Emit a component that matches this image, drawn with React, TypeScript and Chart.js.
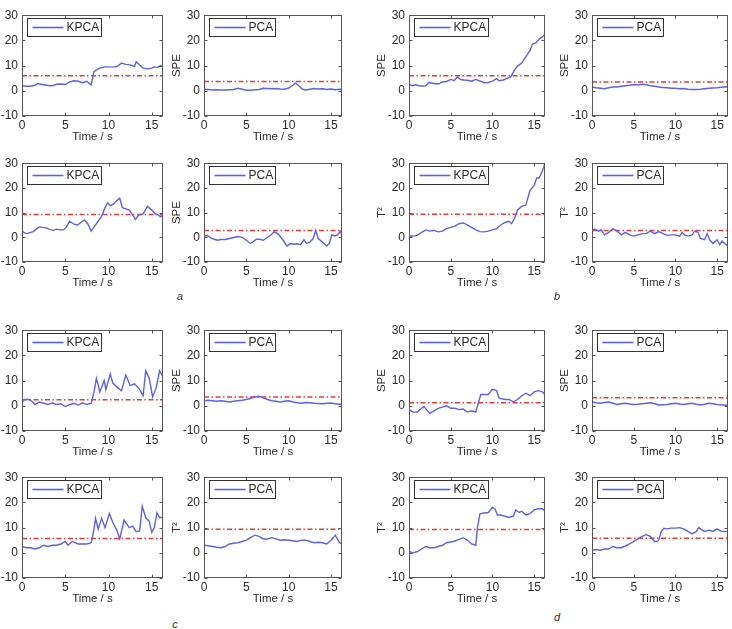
import React, { useEffect, useRef } from "react";
import { Chart, registerables } from "chart.js";
Chart.register(...registerables);

type P = [number, number];

const X_MAX = 16.3;
const X_TICKS = [0, 5, 10, 15];
const Y_MIN = -10;
const Y_MAX = 30;
const Y_TICKS = [-10, 0, 10, 20, 30];
const X_TITLE = "Time / s";

// ---- panel a ----
const A_TOP_KPCA: P[] = [[0,2],[0.5,1.8],[1,1.8],[1.5,2.2],[1.8,2.9],[2.2,2.6],[2.7,2.3],[3.2,2],[3.6,2.1],[4,2.6],[4.5,2.7],[5,2.5],[5.5,3.5],[6,4],[6.5,3.8],[7,3.2],[7.5,3.8],[7.9,2.5],[8,2.3],[8.3,7.5],[8.7,8.5],[9,9],[9.5,9.5],[10,9.5],[10.5,9.4],[11,9.7],[11.5,11],[12,10.5],[12.5,10.3],[13,9.7],[13.2,11.5],[13.6,10.2],[14,9],[14.5,8.7],[15,9],[15.3,9.5],[15.7,9.3],[16,10],[16.3,9.5]];
const A_TOP_KPCA_LIMIT = 6;
const A_TOP_PCA: P[] = [[0,0.6],[0.5,0.5],[1,0.3],[1.5,0.4],[2,0.3],[2.5,0.3],[3,0.4],[3.5,0.5],[4,1],[4.5,0.6],[5,0.2],[5.5,0.2],[6,0.4],[6.5,0.5],[7,1],[7.5,0.9],[8,0.8],[8.5,0.9],[9,0.7],[9.5,0.6],[10,1.1],[10.5,2.2],[10.8,3],[11.2,2],[11.6,0.7],[12,0.3],[12.5,0.6],[13,0.9],[13.5,0.7],[14,0.8],[14.5,0.5],[15,0.7],[15.5,0.4],[16,0.6],[16.3,0.5]];
const A_TOP_PCA_LIMIT = 3.7;
const A_BOT_KPCA: P[] = [[0,2.5],[0.3,1.8],[0.6,1.5],[1,2],[1.3,2.3],[1.6,3.2],[2,4.2],[2.4,4],[2.8,3.8],[3.2,3.2],[3.6,2.8],[4,3.3],[4.4,3],[4.8,3],[5.1,4],[5.5,6.5],[6,5.3],[6.4,5],[6.8,6],[7.2,7],[7.6,5.5],[8,2.5],[8.4,4.5],[8.8,6.5],[9.2,8.5],[9.6,12],[9.9,14],[10.2,12.8],[10.6,13.5],[11,15],[11.3,15.8],[11.6,12],[12,11.5],[12.4,11],[12.8,9],[13.1,7.3],[13.5,9],[14,9.5],[14.5,12.5],[15,11],[15.4,9.5],[15.8,9],[16,8.3],[16.3,9]];
const A_BOT_KPCA_LIMIT = 9.2;
const A_BOT_PCA: P[] = [[0,0.5],[0.4,0.7],[0.8,-0.2],[1.2,-0.8],[1.6,-1.2],[2,-0.9],[2.5,-0.9],[3,-0.5],[3.5,-0.1],[4,0.3],[4.5,0],[5,-1.2],[5.5,-2.5],[5.8,-1.8],[6.2,-0.8],[6.6,-0.8],[7,-1.2],[7.5,0],[8,1.2],[8.3,2.3],[8.8,1.2],[9.3,-1],[9.8,-3.5],[10.2,-2.5],[10.6,-2.8],[11,-2.6],[11.4,-3],[11.8,-1],[12.1,-2.5],[12.5,-2],[12.9,-0.5],[13.2,2.7],[13.5,-0.5],[14,-2],[14.5,-3.5],[14.8,-2.5],[15.1,1],[15.4,0.5],[15.8,1],[16.1,2.5],[16.3,1]];
const A_BOT_PCA_LIMIT = 2.8;

// ---- panel b ----
const B_TOP_KPCA: P[] = [[0,2.5],[0.4,2],[0.8,2.4],[1.2,2],[1.6,1.9],[2,2],[2.4,3.3],[2.8,3],[3.2,2.8],[3.6,2.8],[4,3.5],[4.5,3.7],[5,4.5],[5.4,4],[5.8,5.5],[6.2,4.5],[6.6,4.3],[7,4.2],[7.5,3.8],[8,4.5],[8.5,3.9],[9,3.2],[9.5,3.3],[10,3.8],[10.5,4.8],[10.8,4],[11.3,4.3],[11.8,5],[12.2,5.5],[12.6,8],[13,9.8],[13.5,11],[14,13.5],[14.5,16],[14.8,18.5],[15.2,19],[15.6,20.5],[16,21.5],[16.3,22.5]];
const B_TOP_KPCA_LIMIT = 6;
const B_TOP_PCA: P[] = [[0,1.5],[0.5,1.2],[1,1],[1.5,0.8],[2,1.2],[2.5,1.5],[3,1.5],[3.5,1.8],[4,2],[4.5,2.2],[5,2.5],[5.5,2.3],[6,2.6],[6.5,2.4],[7,2],[7.5,1.8],[8,1.5],[8.5,1.3],[9,1.2],[9.5,1],[10,1],[10.5,0.8],[11,0.9],[11.5,0.6],[12,0.5],[12.5,0.5],[13,0.6],[13.5,0.8],[14,1],[14.5,1.1],[15,1.2],[15.5,1.4],[16,1.6],[16.3,1.5]];
const B_TOP_PCA_LIMIT = 3.5;
const B_BOT_KPCA: P[] = [[0,0.5],[0.5,0.5],[1,0.8],[1.5,2],[2,3],[2.5,2.5],[3,2.8],[3.5,2.2],[4,2.5],[4.5,3.5],[5,4],[5.5,4.5],[6,5.5],[6.5,5.8],[7,5],[7.5,4],[8,3],[8.5,2.3],[9,2.2],[9.5,2.5],[10,3],[10.5,3.5],[11,5],[11.5,6],[12,6.5],[12.3,5.5],[12.7,8],[13,11],[13.5,12.5],[14,13],[14.5,19],[15,21],[15.3,24],[15.6,24],[16,27],[16.3,30]];
const B_BOT_KPCA_LIMIT = 9.3;
const B_BOT_PCA: P[] = [[0,2.5],[0.3,3.3],[0.8,2.5],[1.1,3],[1.5,1],[2,2],[2.5,3.5],[3,2.5],[3.5,1],[4,2],[4.5,1],[5,0.5],[5.5,1],[6,1.5],[6.5,1.5],[7,2.5],[7.5,1.5],[8,2.3],[8.5,1.5],[9,0.8],[9.5,1],[10,1],[10.5,0.5],[10.8,2],[11.1,1],[11.5,0.5],[12,1],[12.3,2.5],[12.7,2],[13,-0.5],[13.5,-1],[13.8,1.5],[14.1,-1],[14.5,-2.5],[15,-1],[15.3,-3],[15.6,-1.5],[16,-2.8],[16.3,-3.5]];
const B_BOT_PCA_LIMIT = 2.8;

// ---- panel c ----
const C_TOP_KPCA: P[] = [[0,1.5],[0.3,2.5],[0.8,2.5],[1.1,2],[1.5,0.5],[2,1.5],[2.5,1],[3,0.5],[3.5,1.2],[4,0.5],[4.5,0.8],[5,-0.3],[5.5,0.5],[6,1],[6.5,0.3],[7,1.2],[7.5,0.5],[8,1],[8.3,5],[8.6,10.9],[9,5.5],[9.5,10],[9.7,6.5],[10.2,12.6],[10.5,9],[11,7.4],[11.5,6],[12,12.2],[12.5,8],[13,8.7],[13.5,7],[14,4],[14.3,13.9],[14.7,11],[15.1,3.5],[15.5,7],[15.9,13.9],[16.3,11.5]];
const C_TOP_KPCA_LIMIT = 2.4;
const C_TOP_PCA: P[] = [[0,2],[0.5,2.2],[1,2],[1.5,1.8],[2,2],[2.5,1.8],[3,1.5],[3.5,1.8],[4,2],[4.5,2.2],[5,2.5],[5.5,3],[6,3.5],[6.5,3.8],[7,3.2],[7.5,2.5],[8,2],[8.5,1.8],[9,1.5],[9.5,1.8],[10,2],[10.5,1.5],[11,1.2],[11.5,1],[12,1.3],[12.5,1.2],[13,1],[13.5,0.9],[14,0.8],[14.5,1],[15,1.1],[15.5,0.8],[16,0.6],[16.3,0.5]];
const C_TOP_PCA_LIMIT = 3.5;
const C_BOT_KPCA: P[] = [[0,2.5],[0.5,2],[1,2],[1.5,1.5],[2,2],[2.5,3],[3,2.5],[3.5,3],[4,3],[4.5,3.5],[5,4.5],[5.3,3],[5.8,4.5],[6.5,3.5],[7,3.5],[7.5,3.5],[8,4],[8.3,9],[8.5,13.7],[8.8,9.4],[9.2,13.7],[9.6,10],[10.1,15.6],[10.5,12],[10.9,9.4],[11.3,5.6],[11.8,13],[12.4,10],[12.8,10.6],[13.2,8.4],[13.6,8.7],[13.9,18.5],[14.3,14],[14.7,12.5],[15,8.1],[15.3,10],[15.6,15.9],[15.9,14],[16.3,14]];
const C_BOT_KPCA_LIMIT = 5.7;
const C_BOT_PCA: P[] = [[0,3],[0.5,2.8],[1,2.5],[1.5,2.2],[2,2],[2.5,2.5],[3,3.5],[3.5,3.8],[4,4],[4.5,4.5],[5,5],[5.5,6],[6,7],[6.5,6.5],[7,5.5],[7.5,5.5],[8,6],[8.5,5.5],[9,5],[9.5,5.2],[10,5],[10.5,4.8],[11,4.5],[11.5,5],[12,5],[12.5,4.5],[13,4],[13.5,4.2],[14,4],[14.5,3.5],[15,5],[15.5,7],[16,4],[16.3,3.5]];
const C_BOT_PCA_LIMIT = 9.3;

// ---- panel d ----
const D_TOP_KPCA: P[] = [[0,-1.5],[0.5,-2.5],[1,-2.5],[1.5,-1],[1.8,-0.3],[2.1,-1.5],[2.5,-3],[3,-2],[3.5,-1],[4,-0.5],[4.5,0],[5,-1],[5.5,-1],[6,-1.5],[6.5,-1.3],[7,-2.5],[7.5,-2],[8,-2.5],[8.3,1],[8.6,4.5],[9,4.5],[9.5,4.5],[10,6.5],[10.5,6],[10.8,3],[11.5,2.5],[12,2.5],[12.5,1.5],[13,2.5],[13.5,4],[14,5],[14.5,4],[15,5.5],[15.5,6],[16,5.5],[16.3,4.5]];
const D_TOP_KPCA_LIMIT = 1.2;
const D_TOP_PCA: P[] = [[0,1.5],[0.5,1.2],[1,1],[1.5,1.3],[2,1.5],[2.5,1],[3,0.5],[3.5,0.8],[4,1],[4.5,0.7],[5,0.5],[5.5,0.6],[6,0.8],[6.5,1],[7,1.2],[7.5,0.8],[8,0.3],[8.5,0.4],[9,0.5],[9.5,0.8],[10,1],[10.5,0.7],[11,0.5],[11.5,0.8],[12,1],[12.5,0.6],[13,0.3],[13.5,0.6],[14,1],[14.5,0.8],[15,0.5],[15.5,0.4],[16,0.2],[16.3,0.3]];
const D_TOP_PCA_LIMIT = 3.2;
const D_BOT_KPCA: P[] = [[0,0.5],[0.5,0],[1,0.5],[1.5,1.5],[2,2.5],[2.5,2],[3,2],[3.5,2.5],[4,3],[4.5,4],[5,4.3],[5.5,4.7],[6,5.3],[6.5,6],[7,5],[7.5,3.5],[8,3],[8.2,10],[8.5,15.5],[9,15.8],[9.5,16],[10,18],[10.3,17.5],[10.6,15],[11,15],[11.5,14.5],[12,14],[12.5,14.5],[12.8,17],[13.2,16],[13.5,16.5],[14,15],[14.5,15.5],[15,17],[15.5,17.5],[16,17.5],[16.3,16.5]];
const D_BOT_KPCA_LIMIT = 9.2;
const D_BOT_PCA: P[] = [[0,1],[0.5,1.3],[1,1],[1.5,1.5],[2,1.5],[2.5,2.5],[3,2],[3.5,2],[4,2.7],[4.5,3.5],[5,4.5],[5.5,5.5],[6,6.5],[6.5,7.2],[7,6.5],[7.5,4.5],[7.8,4.5],[8,5],[8.3,8.5],[8.6,9.7],[9,9.5],[9.5,9.8],[10,9.8],[10.5,10],[11,9.5],[11.5,8.5],[12,7.5],[12.5,8.5],[12.8,10],[13.2,9],[13.5,8.5],[14,9],[14.5,8.5],[15,9.5],[15.5,8.5],[16,8.5],[16.3,8.5]];
const D_BOT_PCA_LIMIT = 5.8;

const SUB_LABELS = ["a", "b", "c", "d"];

// ---- layout (positions/styles) ----
const COL_BOX: [number, number][] = [[22, 141], [204, 138], [409, 136], [592, 136]];
const ROW_BOX: [number, number][] = [[12, 104], [160, 102], [327, 104], [474, 104]];
const SUB_POS: [number, number][] = [[180, 296], [557, 296], [175, 624], [557, 617]];
const LW = 34; // y-axis area width
const BH = 32; // x-axis area height
const PT = 8;
const PR = 6;
const FONT = "'Liberation Sans', Arial, sans-serif";
const TXT = "#2b2b2b";
const BLUE = "#5f5ff0";
const RED = "#ec3b36";
const FRAME = "#555555";

type PanelDef = { row: number; col: number; data: P[]; limit: number; label: string; yTitle: string };

const PANELS: PanelDef[] = [
  { row: 0, col: 0, data: A_TOP_KPCA, limit: A_TOP_KPCA_LIMIT, label: "KPCA", yTitle: "" },
  { row: 0, col: 1, data: A_TOP_PCA, limit: A_TOP_PCA_LIMIT, label: "PCA", yTitle: "SPE" },
  { row: 1, col: 0, data: A_BOT_KPCA, limit: A_BOT_KPCA_LIMIT, label: "KPCA", yTitle: "" },
  { row: 1, col: 1, data: A_BOT_PCA, limit: A_BOT_PCA_LIMIT, label: "PCA", yTitle: "SPE" },
  { row: 0, col: 2, data: B_TOP_KPCA, limit: B_TOP_KPCA_LIMIT, label: "KPCA", yTitle: "SPE" },
  { row: 0, col: 3, data: B_TOP_PCA, limit: B_TOP_PCA_LIMIT, label: "PCA", yTitle: "SPE" },
  { row: 1, col: 2, data: B_BOT_KPCA, limit: B_BOT_KPCA_LIMIT, label: "KPCA", yTitle: "T²" },
  { row: 1, col: 3, data: B_BOT_PCA, limit: B_BOT_PCA_LIMIT, label: "PCA", yTitle: "T²" },
  { row: 2, col: 0, data: C_TOP_KPCA, limit: C_TOP_KPCA_LIMIT, label: "KPCA", yTitle: "" },
  { row: 2, col: 1, data: C_TOP_PCA, limit: C_TOP_PCA_LIMIT, label: "PCA", yTitle: "SPE" },
  { row: 3, col: 0, data: C_BOT_KPCA, limit: C_BOT_KPCA_LIMIT, label: "KPCA", yTitle: "" },
  { row: 3, col: 1, data: C_BOT_PCA, limit: C_BOT_PCA_LIMIT, label: "PCA", yTitle: "T²" },
  { row: 2, col: 2, data: D_TOP_KPCA, limit: D_TOP_KPCA_LIMIT, label: "KPCA", yTitle: "SPE" },
  { row: 2, col: 3, data: D_TOP_PCA, limit: D_TOP_PCA_LIMIT, label: "PCA", yTitle: "SPE" },
  { row: 3, col: 2, data: D_BOT_KPCA, limit: D_BOT_KPCA_LIMIT, label: "KPCA", yTitle: "T²" },
  { row: 3, col: 3, data: D_BOT_PCA, limit: D_BOT_PCA_LIMIT, label: "PCA", yTitle: "T²" },
];

function framePlugin(label: string) {
  return {
    id: "frame",
    afterDraw(chart: any) {
      const { ctx, chartArea: a, scales } = chart;
      ctx.save();
      ctx.strokeStyle = FRAME;
      ctx.lineWidth = 1;
      const L = Math.round(a.left) + 0.5, R = Math.round(a.right) - 0.5;
      const T = Math.round(a.top) + 0.5, B = Math.round(a.bottom) - 0.5;
      ctx.strokeRect(L, T, R - L, B - T);
      ctx.beginPath();
      for (const v of X_TICKS) {
        const x = Math.round(scales.x.getPixelForValue(v)) + 0.5;
        ctx.moveTo(x, B); ctx.lineTo(x, B - 3);
        ctx.moveTo(x, T); ctx.lineTo(x, T + 3);
      }
      for (const v of Y_TICKS) {
        const y = Math.round(scales.y.getPixelForValue(v)) + 0.5;
        ctx.moveTo(L, y); ctx.lineTo(L + 3, y);
        ctx.moveTo(R, y); ctx.lineTo(R - 3, y);
      }
      ctx.stroke();
      // legend
      ctx.font = `12px ${FONT}`;
      const tw = ctx.measureText(label).width;
      const bx = L + 5, by = T + 3, bw = Math.round(41 + tw), bh = 18;
      ctx.fillStyle = "#ffffff";
      ctx.fillRect(bx, by, bw, bh);
      ctx.strokeStyle = "#333333";
      ctx.lineWidth = 1;
      ctx.strokeRect(bx, by, bw, bh);
      ctx.strokeStyle = BLUE;
      ctx.lineWidth = 1.6;
      ctx.beginPath();
      ctx.moveTo(bx + 5, by + bh / 2);
      ctx.lineTo(bx + 36, by + bh / 2);
      ctx.stroke();
      ctx.fillStyle = TXT;
      ctx.textBaseline = "middle";
      ctx.textAlign = "left";
      ctx.fillText(label, bx + 39, by + bh / 2 + 0.5);
      ctx.restore();
    },
  };
}

function Panel({ def }: { def: PanelDef }) {
  const ref = useRef<HTMLCanvasElement>(null);
  const [bl, bw] = COL_BOX[def.col];
  const [bt, bh] = ROW_BOX[def.row];
  const w = bw + LW + PR;
  const h = bh + PT + BH;
  useEffect(() => {
    if (!ref.current) return;
    const font = { family: FONT, size: 12 };
    const titleFont = { family: FONT, size: 11.5 };
    const chart = new Chart(ref.current, {
      type: "line",
      data: {
        datasets: [
          {
            data: def.data.map(([x, y]) => ({ x, y })),
            borderColor: BLUE,
            borderWidth: 1.4,
            pointRadius: 0,
            tension: 0,
          },
          {
            data: [{ x: 0, y: def.limit }, { x: X_MAX, y: def.limit }],
            borderColor: RED,
            borderWidth: 1.5,
            borderDash: [5, 2.5, 1.5, 2.5],
            pointRadius: 0,
          },
        ],
      },
      options: {
        animation: false,
        responsive: false,
        maintainAspectRatio: false,
        events: [],
        layout: { padding: { top: PT, right: PR, left: 0, bottom: 0 } },
        plugins: { legend: { display: false }, tooltip: { enabled: false } },
        scales: {
          x: {
            type: "linear",
            min: 0,
            max: X_MAX,
            afterBuildTicks: (s: any) => { s.ticks = X_TICKS.map((v) => ({ value: v })); },
            afterFit: (s: any) => { s.height = BH; },
            grid: { display: false, drawTicks: false },
            border: { display: false },
            ticks: { padding: 2, color: TXT, font, maxRotation: 0, autoSkip: false },
            title: { display: true, text: X_TITLE, color: TXT, font: titleFont, padding: { top: 0, bottom: 4 } },
          },
          y: {
            type: "linear",
            min: Y_MIN,
            max: Y_MAX,
            afterBuildTicks: (s: any) => { s.ticks = Y_TICKS.map((v) => ({ value: v })); },
            afterFit: (s: any) => { s.width = LW; },
            grid: { display: false, drawTicks: false },
            border: { display: false },
            ticks: { padding: 4, color: TXT, font, autoSkip: false },
            title: { display: !!def.yTitle, text: def.yTitle, color: TXT, font: titleFont, padding: { top: 0, bottom: 0 } },
          },
        },
      } as any,
      plugins: [framePlugin(def.label)],
    });
    return () => chart.destroy();
  }, [def]);
  return (
    <canvas
      ref={ref}
      width={w}
      height={h}
      style={{ position: "absolute", left: bl - LW, top: bt - PT, width: w, height: h }}
    />
  );
}

export default function App() {
  return (
    <div style={{ position: "absolute", left: 0, top: 0, width: 732, height: 629, background: "#fff", overflow: "hidden" }}>
      {PANELS.map((p, i) => (
        <Panel key={i} def={p} />
      ))}
      {SUB_LABELS.map((s, i) => (
        <div
          key={s}
          style={{
            position: "absolute",
            left: SUB_POS[i][0] - 5,
            top: SUB_POS[i][1] - 7,
            width: 10,
            textAlign: "center",
            fontFamily: FONT,
            fontStyle: "italic",
            fontSize: 11,
            color: TXT,
            lineHeight: "14px",
          }}
        >
          {s}
        </div>
      ))}
    </div>
  );
}
